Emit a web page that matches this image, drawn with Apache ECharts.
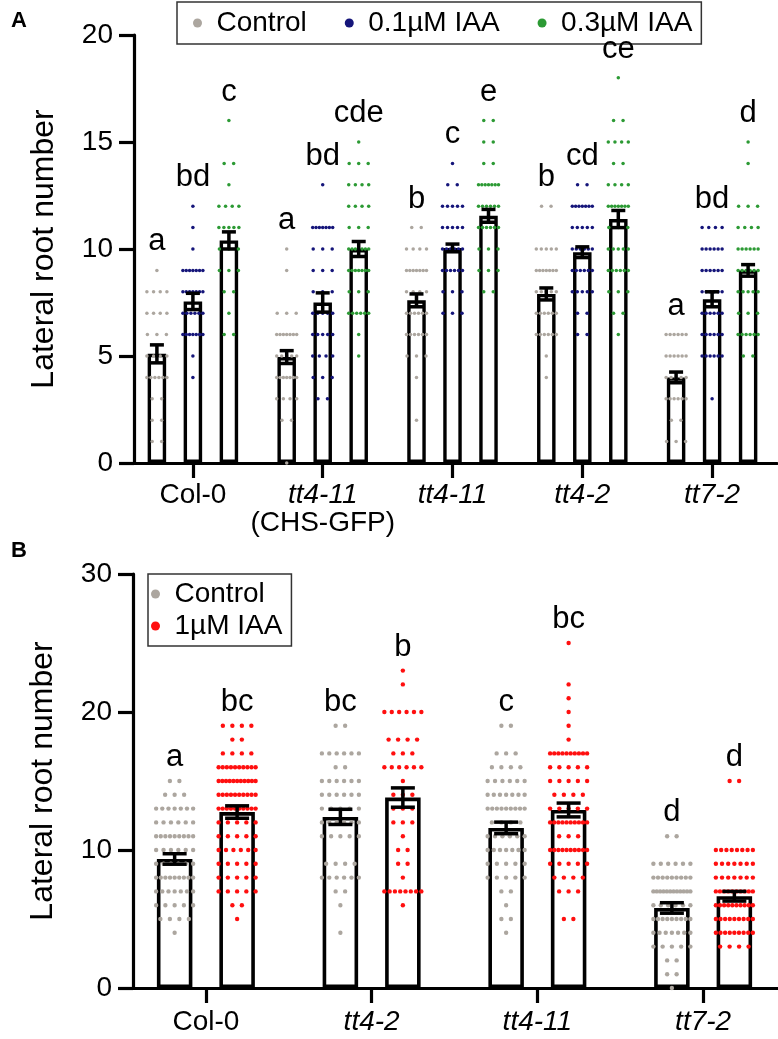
<!DOCTYPE html>
<html><head><meta charset="utf-8">
<script src="https://cdn.jsdelivr.net/npm/echarts@6/dist/echarts.min.js"></script>
<style>html,body{margin:0;padding:0;background:#fff}#c{width:778px;height:1039px}</style>
</head><body><div id="c"></div>
<script>
// ================= DATA =================
// Panel A
const categoriesA = ['Col-0', 'tt4-11 (CHS-GFP)', 'tt4-11', 'tt4-2', 'tt7-2'];
const namesA = ['Control', '0.1µM IAA', '0.3µM IAA'];
const meanA_control = [5.1, 4.95, 7.6, 7.9, 4.0];
const semA_control  = [0.42, 0.3, 0.3, 0.28, 0.25];
const meanA_iaa01   = [7.55, 7.5, 10.05, 9.85, 7.65];
const semA_iaa01    = [0.38, 0.45, 0.18, 0.25, 0.35];
const meanA_iaa03   = [10.4, 10.0, 11.55, 11.4, 9.0];
const semA_iaa03    = [0.4, 0.35, 0.3, 0.4, 0.27];
const lettersA_control = ['a', 'a', 'b', 'b', 'a'];
const lettersA_iaa01   = ['bd', 'bd', 'c', 'cd', 'bd'];
const lettersA_iaa03   = ['c', 'cde', 'e', 'ce', 'd'];
// individual roots: [lateral root number, number of roots]
const dotsA_control = [
  [[9,1],[8,4],[7,4],[6,3],[5,4],[4,6],[3,2],[2,2],[1,2]],
  [[10,1],[9,1],[7,3],[6,7],[5,5],[4,7],[3,4],[2,2],[0,1]],
  [[11,2],[10,4],[9,7],[8,4],[7,6],[6,6],[5,3],[4,1],[2,1]],
  [[12,2],[10,5],[9,7],[8,5],[7,6],[6,6],[5,1],[4,1]],
  [[6,6],[5,6],[4,5],[3,6],[2,2],[1,3]]
];
const dotsA_iaa01 = [
  [[12,1],[11,1],[10,1],[9,7],[8,7],[7,6],[6,7],[5,1],[4,1]],
  [[13,1],[11,7],[10,3],[9,3],[8,3],[7,5],[6,5],[5,4],[4,3],[3,2]],
  [[14,1],[13,2],[12,5],[11,5],[10,6],[9,6],[8,3],[7,3]],
  [[13,2],[12,7],[11,5],[10,6],[9,6],[8,5],[7,2],[6,2]],
  [[11,4],[10,6],[9,6],[8,6],[7,6],[6,6],[5,6],[3,1]]
];
const dotsA_iaa03 = [
  [[16,1],[14,2],[13,1],[12,4],[11,5],[10,3],[9,3],[8,2],[7,1],[6,2]],
  [[15,1],[14,3],[13,4],[12,4],[11,3],[10,7],[9,7],[8,3],[7,6],[6,1],[5,1]],
  [[16,2],[15,2],[14,2],[13,7],[12,6],[11,6],[10,3],[9,3],[8,2]],
  [[18,1],[16,2],[15,4],[14,2],[13,4],[12,7],[11,3],[10,5],[9,6],[8,3],[7,2],[6,1]],
  [[15,1],[14,1],[12,3],[11,4],[10,6],[9,6],[8,5],[7,3],[6,6],[5,2]]
];
const ticksA = [0, 5, 10, 15, 20];

// Panel B
const categoriesB = ['Col-0', 'tt4-2', 'tt4-11', 'tt7-2'];
const namesB = ['Control', '1µM IAA'];
const meanB_control = [9.35, 12.4, 11.6, 5.8];
const semB_control  = [0.38, 0.55, 0.42, 0.38];
const meanB_iaa1    = [12.75, 13.8, 12.9, 6.65];
const semB_iaa1     = [0.45, 0.7, 0.5, 0.35];
const lettersB_control = ['a', 'bc', 'c', 'd'];
const lettersB_iaa1    = ['bc', 'b', 'bc', 'd'];
const dotsB_control = [
  [[15,2],[14,3],[13,7],[12,6],[11,9],[10,6],[9,6],[8,9],[7,7],[6,5],[5,4],[4,1]],
  [[19,2],[17,6],[16,2],[15,6],[14,6],[13,5],[12,6],[11,5],[9,4],[8,6],[7,2],[6,1],[4,1]],
  [[19,2],[17,3],[16,4],[15,6],[14,7],[13,9],[12,4],[11,6],[10,7],[9,5],[8,5],[7,2],[6,1],[5,2],[4,1]],
  [[11,2],[9,6],[8,9],[7,12],[6,6],[5,9],[4,7],[3,5],[2,2],[1,2],[0,1]]
];
const dotsB_iaa1 = [
  [[19,4],[18,2],[17,4],[16,10],[15,11],[14,10],[13,10],[12,5],[11,5],[10,6],[9,5],[8,5],[7,5],[6,2],[5,1]],
  [[23,1],[22,1],[20,6],[18,4],[17,3],[16,6],[15,1],[14,3],[13,3],[12,3],[11,1],[10,2],[9,2],[8,1],[7,8],[6,1]],
  [[25,1],[22,1],[21,1],[20,1],[19,1],[18,1],[17,10],[16,5],[15,5],[14,4],[13,5],[12,10],[11,3],[10,10],[9,5],[8,4],[7,3],[5,2]],
  [[15,2],[10,8],[9,7],[8,7],[7,10],[6,10],[5,9],[4,9],[3,4]]
];
const ticksB = [0, 10, 20, 30];

// ================= STYLE =================
const FONT = '"Liberation Sans", Arial, sans-serif';
const GREY = '#aca69f', BLUE = '#15157a', GREEN = '#2c9a34', RED = '#ff0f0f';
const LA = { barWidth: 18.5, barGap: 0.946, border: 3.4, dotR: 1.75, dotStep: 9.5, dotSpan: 20, cap: 14, letterGap: 13, letterSize: 31 };
const LB = { barWidth: 35.5, barGap: 0.76, border: 3.6, dotR: 2.2, dotStep: 9.5, dotSpan: 37, cap: 24, letterGap: 8, letterSize: 31 };

function buildPanel(gi, groups, L) {
  const out = [];
  const pitch = L.barWidth * (1 + L.barGap);
  const offs = groups.map((g, k) => (k - (groups.length - 1) / 2) * pitch);
  groups.forEach((g, k) => {
    out.push({
      type: 'bar', name: 'mean ' + g.name + ' ' + gi, xAxisIndex: gi, yAxisIndex: gi,
      data: g.means, barWidth: L.barWidth, barGap: (L.barGap * 100) + '%',
      itemStyle: { color: '#fff', borderColor: '#000', borderWidth: L.border },
      z: 2, silent: true, animation: false
    });
  });
  groups.forEach((g, k) => {
    const data = [];
    g.dots.forEach((rows, ci) => rows.forEach(([v, n]) => data.push([ci, v, n])));
    out.push({
      type: 'custom', name: g.name, xAxisIndex: gi, yAxisIndex: gi, data: data,
      encode: { x: 0, y: 1 }, z: 3, silent: true, clip: false,
      itemStyle: { color: g.color },
      renderItem: (p, api) => {
        const n = api.value(2);
        const c = api.coord([api.value(0), api.value(1)]);
        const s = n > 1 ? Math.min(L.dotStep, L.dotSpan / (n - 1)) : 0;
        const ch = [];
        for (let j = 0; j < n; j++) {
          ch.push({ type: 'circle', shape: { cx: c[0] + offs[k] + (j - (n - 1) / 2) * s, cy: c[1], r: L.dotR }, style: { fill: g.color } });
        }
        return { type: 'group', children: ch };
      }
    });
  });
  groups.forEach((g, k) => {
    const data = g.means.map((m, ci) => [ci, m, g.sems[ci]]);
    out.push({
      type: 'custom', name: 'err ' + g.name + ' ' + gi, xAxisIndex: gi, yAxisIndex: gi, data: data,
      encode: { x: 0, y: 1 }, z: 4, silent: true, clip: false,
      renderItem: (p, api) => {
        const ci = api.value(0), m = api.value(1), e = api.value(2);
        const hi = api.coord([ci, m + e]), lo = api.coord([ci, m - e]);
        const x = hi[0] + offs[k], h = L.cap / 2;
        const st = { stroke: '#000', lineWidth: 3.5 };
        return { type: 'group', children: [
          { type: 'line', shape: { x1: x, y1: hi[1], x2: x, y2: lo[1] }, style: st },
          { type: 'line', shape: { x1: x - h, y1: hi[1], x2: x + h, y2: hi[1] }, style: st },
          { type: 'line', shape: { x1: x - h, y1: lo[1], x2: x + h, y2: lo[1] }, style: st }
        ] };
      }
    });
    const ldata = g.dots.map((rows, ci) => [ci, Math.max(...rows.map(r => r[0]))]);
    out.push({
      type: 'custom', name: 'letters ' + g.name + ' ' + gi, xAxisIndex: gi, yAxisIndex: gi, data: ldata,
      encode: { x: 0, y: 1 }, z: 5, silent: true, clip: false,
      renderItem: (p, api) => {
        const c = api.coord([api.value(0), api.value(1)]);
        return { type: 'text', x: c[0] + offs[k], y: c[1] - L.letterGap,
          style: { text: g.letters[p.dataIndex], fill: '#000', fontSize: L.letterSize, fontFamily: FONT, align: 'center', verticalAlign: 'bottom' } };
      }
    });
  });
  return out;
}

const series = [].concat(
  buildPanel(0, [
    { name: namesA[0], color: GREY, dots: dotsA_control, means: meanA_control, sems: semA_control, letters: lettersA_control },
    { name: namesA[1], color: BLUE, dots: dotsA_iaa01, means: meanA_iaa01, sems: semA_iaa01, letters: lettersA_iaa01 },
    { name: namesA[2], color: GREEN, dots: dotsA_iaa03, means: meanA_iaa03, sems: semA_iaa03, letters: lettersA_iaa03 }
  ], LA),
  buildPanel(1, [
    { name: namesB[0], color: GREY, dots: dotsB_control, means: meanB_control, sems: semB_control, letters: lettersB_control },
    { name: namesB[1], color: RED, dots: dotsB_iaa1, means: meanB_iaa1, sems: semB_iaa1, letters: lettersB_iaa1 }
  ], LB)
);

function catLabel(v) {
  if (v === 'Col-0') return v;
  if (v.indexOf('(CHS-GFP)') >= 0) return '{i|' + v.replace(' (CHS-GFP)', '') + '}\n{n|(CHS-GFP)}';
  return '{i|' + v + '}';
}
const axLine = { show: true, lineStyle: { color: '#000', width: 3.2 } };
const axTick = { show: true, length: 15, lineStyle: { color: '#000', width: 3.2 } };
function xAx(gi, cats, margin) {
  return { gridIndex: gi, type: 'category', data: cats, axisLine: axLine,
    axisTick: Object.assign({ alignWithLabel: true }, axTick),
    axisLabel: { interval: 0, margin: margin, color: '#000', fontSize: 28, fontFamily: FONT, formatter: catLabel, lineHeight: 28,
      rich: { i: { fontStyle: 'italic', fontSize: 28, fontFamily: FONT, color: '#000', lineHeight: 28 },
              n: { fontSize: 28, fontFamily: FONT, color: '#000', lineHeight: 28 } } },
    splitLine: { show: false } };
}
function yAx(gi, ticks, off) {
  return { gridIndex: gi, type: 'value', min: ticks[0], max: ticks[ticks.length - 1], interval: ticks[1] - ticks[0], offset: off,
    axisLine: axLine, axisTick: axTick, splitLine: { show: false },
    axisLabel: { margin: 21, color: '#000', fontSize: 28, fontFamily: FONT },
    name: 'Lateral root number', nameLocation: 'middle', nameGap: 74,
    nameTextStyle: { color: '#000', fontSize: 32, fontFamily: FONT } };
}

const option = {
  animation: false,
  backgroundColor: '#fff',
  grid: [
    { left: 128, top: 35, width: 649, height: 428, outerBoundsMode: 'none', containLabel: false },
    { left: 123, top: 574, width: 663, height: 414, outerBoundsMode: 'none', containLabel: false }
  ],
  xAxis: [xAx(0, categoriesA, 18), xAx(1, categoriesB, 20)],
  yAxis: [yAx(0, ticksA, -6), yAx(1, ticksB, -10)],
  legend: [
    { left: 177, top: 2, orient: 'horizontal', selectedMode: false, itemWidth: 12, itemHeight: 9, itemGap: 38,
      padding: [7, 9, 7, 16], borderColor: '#333', borderWidth: 1.5, backgroundColor: '#fff',
      textStyle: { color: '#000', fontSize: 28, fontFamily: FONT, padding: [0, 0, 0, 8] },
      data: [
        { name: namesA[0], icon: 'circle', itemStyle: { color: GREY } },
        { name: namesA[1], icon: 'circle', itemStyle: { color: BLUE }, textStyle: { padding: [0, 13, 0, 8] } },
        { name: namesA[2], icon: 'circle', itemStyle: { color: GREEN } }
      ] },
    { left: 148, top: 574, orient: 'vertical', selectedMode: false, itemWidth: 12, itemHeight: 9, itemGap: 4,
      padding: [6, 9, 6, 3], borderColor: '#333', borderWidth: 1.5, backgroundColor: '#fff',
      textStyle: { color: '#000', fontSize: 28, fontFamily: FONT, padding: [0, 0, 0, 8] },
      data: [
        { name: namesB[0], icon: 'circle', itemStyle: { color: GREY } },
        { name: namesB[1], icon: 'circle', itemStyle: { color: RED } }
      ] }
  ],
  graphic: [
    { type: 'text', left: 11, top: 10, style: { text: 'A', fontSize: 22, fontWeight: 'bold', fontFamily: FONT, fill: '#000' } },
    { type: 'text', left: 11, top: 540, style: { text: 'B', fontSize: 22, fontWeight: 'bold', fontFamily: FONT, fill: '#000' } }
  ],
  series: series
};
const chart = echarts.init(document.getElementById('c'), null, { renderer: 'canvas' });
chart.setOption(option);
</script></body></html>
